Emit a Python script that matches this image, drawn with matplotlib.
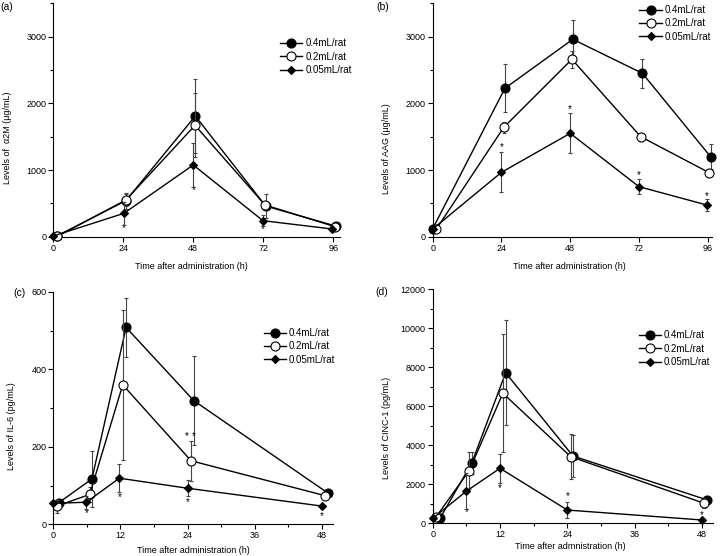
import matplotlib
matplotlib.use("Agg")
import matplotlib.pyplot as plt
from matplotlib.ticker import MultipleLocator

plt.rcParams['font.family'] = ['Liberation Sans', 'DejaVu Sans']
plt.rcParams['font.size'] = 6.5

doses = ['0.4mL/rat', '0.2mL/rat', '0.05mL/rat']

# (a) alpha2M, ug/mL
a_x_04 = [1.2, 24.9, 48.7, 72.8, 96.8]
a_y_04 = [10, 540, 1810, 460, 160]
a_e_04 = [0, 120, 560, 180, 20]
a_x_02 = [1.4, 24.9, 48.6, 72.6, 96.6]
a_y_02 = [5, 550, 1670, 475, 150]
a_e_02 = [0, 90, 480, 60, 20]
a_x_005 = [0, 24.2, 48.0, 71.9, 95.7]
a_y_005 = [10, 350, 1075, 240, 115]
a_e_005 = [0, 175, 325, 80, 20]
a_star_x = [24.2, 48.0, 71.9]
a_star_y = [125, 700, 110]

# (b) AAG, ug/mL
b_x_04 = [0, 25.2, 48.9, 73.2, 97.0]
b_y_04 = [120, 2225, 2960, 2450, 1200]
b_e_04 = [0, 360, 290, 220, 190]
b_x_02 = [1.2, 24.8, 48.6, 72.6, 96.5]
b_y_02 = [110, 1640, 2660, 1500, 960]
b_e_02 = [0, 80, 130, 60, 40]
b_x_005 = [0, 24.0, 48.0, 72.0, 95.7]
b_y_005 = [115, 965, 1550, 750, 475]
b_e_005 = [0, 300, 300, 115, 85]
b_star_x = [24.0, 48.0, 72.0, 95.7]
b_star_y = [1340, 1910, 925, 615]

# (c) IL-6, pg/mL
c_x_04 = [1.0, 6.9, 13.0, 25.1, 49.1]
c_y_04 = [56, 117, 508, 319, 80]
c_e_04 = [0, 72, 77, 115, 5]
c_x_02 = [0.6, 6.5, 12.4, 24.6, 48.5]
c_y_02 = [47, 77, 360, 164, 74]
c_e_02 = [17, 20, 193, 51, 5]
c_x_005 = [0, 5.9, 11.8, 24.0, 48.0]
c_y_005 = [54, 57, 119, 93, 47]
c_e_005 = [5, 17, 36, 21, 5]
c_star_x = [5.9, 11.8, 23.8, 25.0, 24.0, 48.0]
c_star_y = [28, 71, 228, 228, 57, 20]

# (d) CINC-1, pg/mL
d_x_04 = [1.3, 6.95, 13.0, 25.0, 48.9]
d_y_04 = [260, 3080, 7720, 3450, 1200]
d_e_04 = [0, 570, 2700, 1100, 150]
d_x_02 = [0.6, 6.5, 12.5, 24.6, 48.4]
d_y_02 = [330, 2700, 6670, 3415, 1025]
d_e_02 = [0, 950, 3020, 1150, 250]
d_x_005 = [0, 6.0, 12.0, 24.0, 48.0]
d_y_005 = [250, 1650, 2820, 680, 170]
d_e_005 = [0, 920, 740, 420, 100]
d_star_x = [6.0, 12.0, 24.0, 48.0]
d_star_y = [600, 1790, 1400, 425]

panels = [
    dict(tag='(a)', pos=[0.074, 0.5743, 0.3982, 0.4198], xlim=98.3, ylim=3500,
         xmaj=24, xmin=None, ymaj=1000, ymin=500,
         ylabel='Levels of  \u03b12M (\u03bcg/mL)', xlabel='Time after administration (h)',
         series=[(a_x_04, a_y_04, a_e_04), (a_x_02, a_y_02, a_e_02), (a_x_005, a_y_005, a_e_005)],
         stars=(a_star_x, a_star_y), leg=(0.389, 0.931),
         ylc=(-0.158, 0.423), xlc=(0.483, -0.1285), tagxy=(0.0, 0.987)),
    dict(tag='(b)', pos=[0.601, 0.5743, 0.3875, 0.4198], xlim=97.4, ylim=3500,
         xmaj=24, xmin=None, ymaj=1000, ymin=500,
         ylabel='Levels of AAG (\u03bcg/mL)', xlabel='Time after administration (h)',
         series=[(b_x_04, b_y_04, b_e_04), (b_x_02, b_y_02, b_e_02), (b_x_005, b_y_005, b_e_005)],
         stars=(b_star_x, b_star_y), leg=(0.888, 0.991),
         ylc=(-0.165, 0.376), xlc=(0.489, -0.1285), tagxy=(0.523, 0.987)),
    dict(tag='(c)', pos=[0.074, 0.057, 0.3889, 0.4182], xlim=50, ylim=600,
         xmaj=12, xmin=6, ymaj=200, ymin=100,
         ylabel='Levels of IL-6 (pg/mL)', xlabel='Time after administration (h)',
         series=[(c_x_04, c_y_04, c_e_04), (c_x_02, c_y_02, c_e_02), (c_x_005, c_y_005, c_e_005)],
         stars=(c_star_x, c_star_y), leg=(0.366, 0.410),
         ylc=(-0.149, 0.423), xlc=(0.5, -0.1135), tagxy=(0.018, 0.473)),
    dict(tag='(d)', pos=[0.601, 0.0588, 0.3896, 0.4209], xlim=50, ylim=12000,
         xmaj=12, xmin=6, ymaj=2000, ymin=1000,
         ylabel='Levels of CINC-1 (pg/mL)', xlabel='Time after admnistration (h)',
         series=[(d_x_04, d_y_04, d_e_04), (d_x_02, d_y_02, d_e_02), (d_x_005, d_y_005, d_e_005)],
         stars=(d_star_x, d_star_y), leg=(0.887, 0.406),
         ylc=(-0.164, 0.407), xlc=(0.492, -0.098), tagxy=(0.521, 0.475)),
]

styles = [dict(marker='o', ms=6.5, mfc='black'),
          dict(marker='o', ms=6.5, mfc='white'),
          dict(marker='D', ms=4.2, mfc='black')]

fig = plt.figure(figsize=(7.2, 5.56), dpi=100)

for p in panels:
    ax = fig.add_axes(p['pos'])
    for i, (xs, ys, es) in enumerate(p['series']):
        ax.errorbar(xs, ys, yerr=es, fmt='none', ecolor='#444444', elinewidth=0.8,
                    capsize=1.6, capthick=0.8, zorder=2 + i, clip_on=False)
        ax.plot(xs, ys, color='black', lw=1.0, mec='black', mew=0.8,
                label=doses[i], zorder=3 + i, clip_on=False, **styles[i])
    for sx, sy in zip(*p['stars']):
        ax.text(sx, sy, '*', ha='center', va='center', fontsize=7)
    ax.set_xlim(0, p['xlim'])
    ax.set_ylim(0, p['ylim'])
    ax.xaxis.set_major_locator(MultipleLocator(p['xmaj']))
    if p['xmin']:
        ax.xaxis.set_minor_locator(MultipleLocator(p['xmin']))
    ax.yaxis.set_major_locator(MultipleLocator(p['ymaj']))
    ax.yaxis.set_minor_locator(MultipleLocator(p['ymin']))
    ax.tick_params(which='major', direction='out', length=3.5, width=0.8, pad=1.5)
    ax.tick_params(which='minor', direction='out', length=2, width=0.8)
    for s in ['top', 'right']:
        ax.spines[s].set_visible(False)
    for s in ['left', 'bottom']:
        ax.spines[s].set_linewidth(0.8)
    ax.set_ylabel(p['ylabel'], va='center')
    ax.set_xlabel(p['xlabel'], va='center')
    ax.yaxis.set_label_coords(*p['ylc'])
    ax.xaxis.set_label_coords(*p['xlc'])
    ax.legend(loc='upper left', bbox_to_anchor=p['leg'], bbox_transform=fig.transFigure,
              frameon=False, borderpad=0, borderaxespad=0, handlelength=2.3,
              handletextpad=0.3, labelspacing=0.35, fontsize=7)
    fig.text(p['tagxy'][0], p['tagxy'][1], p['tag'], ha='left', va='center', fontsize=7.5)

fig.savefig('out.png', dpi=100)
